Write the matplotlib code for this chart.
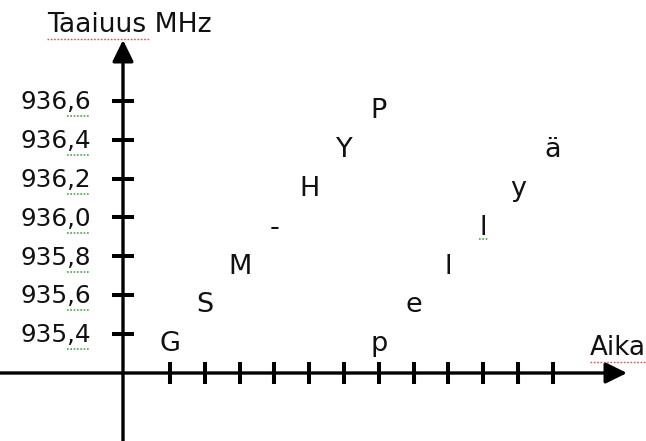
import numpy as np
import matplotlib
matplotlib.use("Agg")
import matplotlib.pyplot as plt
from matplotlib.lines import Line2D

# letters hopping between frequencies over time
letters = ['G', 'S', 'M', '-', 'H', 'Y', 'P', 'p', 'e', 'l', 'l', 'y', 'ä']
time_slot = [1, 2, 3, 4, 5, 6, 7, 7, 8, 9, 10, 11, 12]
freq_mhz = [935.4, 935.6, 935.8, 936.0, 936.2, 936.4, 936.6,
            935.4, 935.6, 935.8, 936.0, 936.2, 936.4]

x_ticks = list(range(1, 13))
y_ticks = [935.4, 935.6, 935.8, 936.0, 936.2, 936.4, 936.6]
y_tick_labels = ['935,4', '935,6', '935,8', '936,0', '936,2', '936,4', '936,6']

# layout (data units per pixel)
PX_X = 1 / 34.8
PX_Y = 0.2 / 38.8
AXIS_X = 1 - 47 * PX_X          # vertical axis
AXIS_Y = 936.0 - 155.7 * PX_Y   # horizontal axis

fig = plt.figure(figsize=(6.46, 4.41), dpi=100)
ax = fig.add_axes([0, 0, 1, 1])
x0, x1 = 1 - 170 * PX_X, 1 + 476 * PX_X
y0, y1 = 936.0 - 223.7 * PX_Y, 936.0 + 217.3 * PX_Y
ax.set_xlim(x0, x1)
ax.set_ylim(y0, y1)
ax.axis('off')

arrow = dict(arrowstyle='-|>,head_length=0.65,head_width=0.32', lw=2.4,
             color='black', shrinkA=0, shrinkB=0, mutation_scale=20)
ax.annotate('', xy=(1 + 457 * PX_X, AXIS_Y), xytext=(x0, AXIS_Y),
            arrowprops=arrow, annotation_clip=False)
ax.annotate('', xy=(AXIS_X, 936.0 + 177.3 * PX_Y), xytext=(AXIS_X, y0),
            arrowprops=arrow, annotation_clip=False)

# tick marks
ax.plot(x_ticks, [AXIS_Y] * len(x_ticks), ls='none', marker='|',
        ms=16, mew=2.9, color='black')
ax.plot([AXIS_X] * len(y_ticks), y_ticks, ls='none', marker='_',
        ms=16.5, mew=2.9, color='black')

# y labels
for v, lab in zip(y_ticks, y_tick_labels):
    ax.text(1 - 79 * PX_X, v - 8.5 * PX_Y, lab, ha='right', va='baseline',
            fontsize=17.8, color='#111111')
    # green spell-check squiggle under ",x"
    ax.plot([1 - 103 * PX_X, 1 - 80 * PX_X], [v - 15.5 * PX_Y] * 2,
            ls=(0, (1, 1)), lw=1.2, color='#4aa84a')

# letters
for t, f, ch in zip(time_slot, freq_mhz, letters):
    ax.text(t, f - 17.5 * PX_Y, ch, ha='center', va='baseline',
            fontsize=19.5, color='#111111')
ax.plot([10 - 4 * PX_X, 10 + 5 * PX_X], [936.0 - 22 * PX_Y] * 2,
        ls=(0, (1, 1)), lw=1.2, color='#4aa84a')

# axis titles
fig.text(47 / 646, 1 - 31.7 / 441, 'Taaiuus MHz', ha='left', va='baseline',
         fontsize=19.2, color='#111111')
fig.text(590 / 646, 1 - 355 / 441, 'Aika', ha='left', va='baseline',
         fontsize=18.8, color='#111111')
fig.add_artist(Line2D([47 / 646, 150 / 646], [1 - 38.5 / 441] * 2,
                      ls=(0, (1.2, 1.2)), lw=1, color='#e05050'))
fig.add_artist(Line2D([590 / 646, 645 / 646], [1 - 362 / 441] * 2,
                      ls=(0, (1.2, 1.2)), lw=1, color='#e05050'))

fig.savefig('out.png', dpi=100)
